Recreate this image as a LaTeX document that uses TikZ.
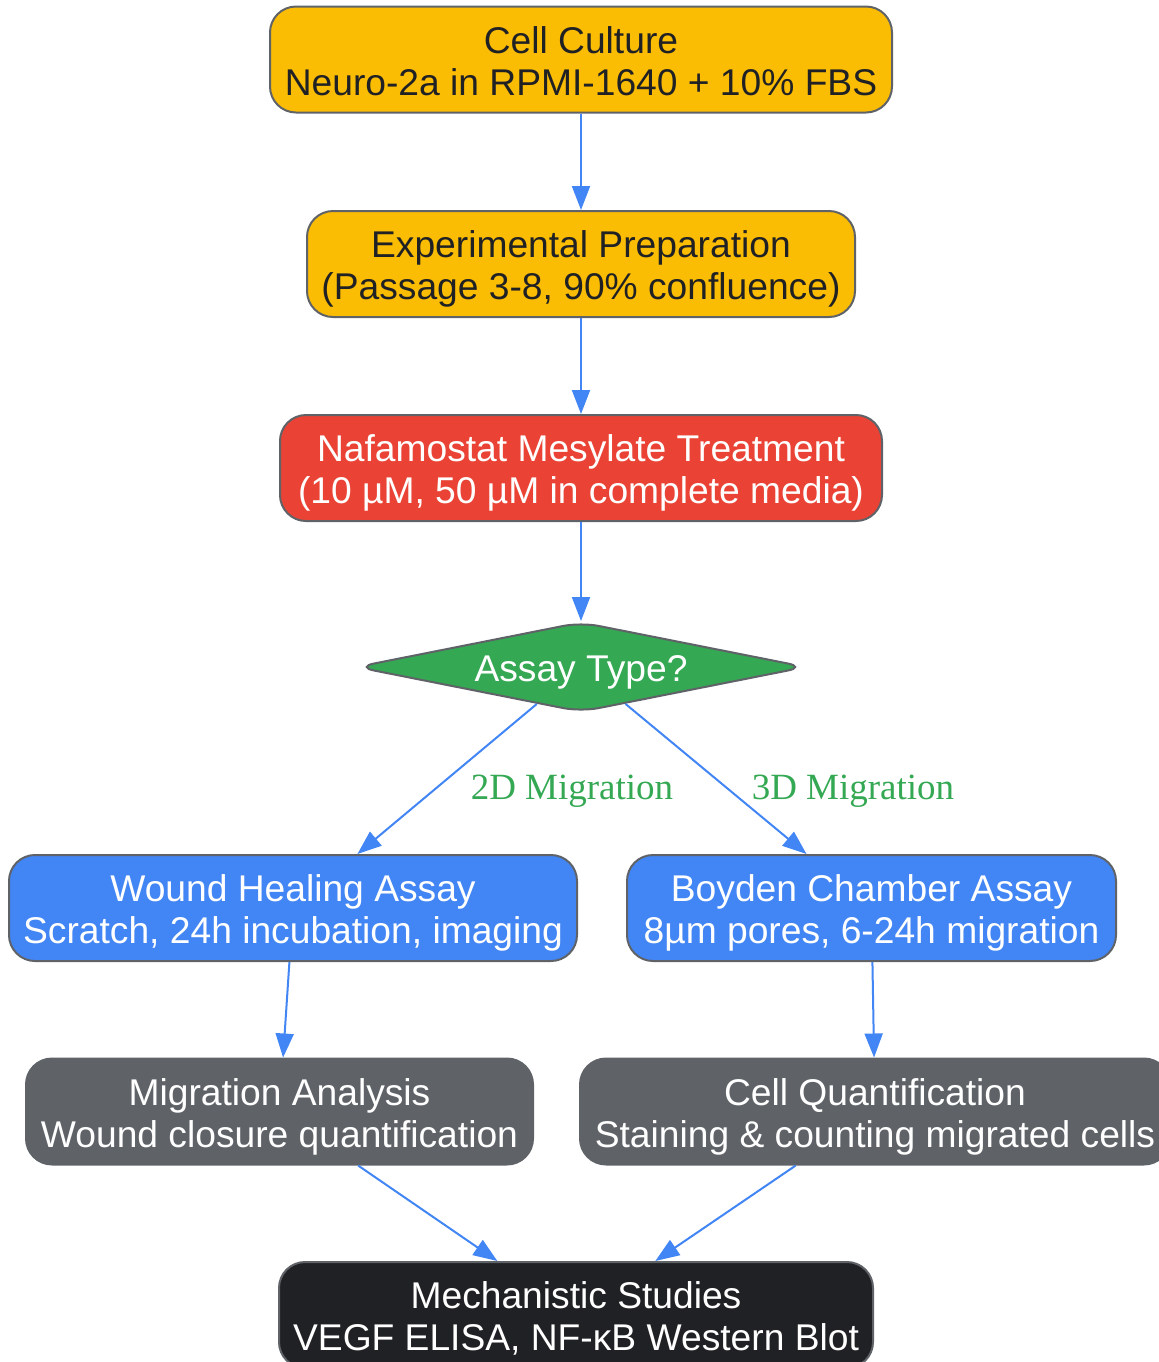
\documentclass[tikz,border=0pt]{standalone}
\usepackage{fontspec}
\setmainfont{Liberation Serif}
\setsansfont{Liberation Sans}
\usetikzlibrary{shapes.geometric,arrows.meta}
\definecolor{gyellow}{HTML}{FBBC04}
\definecolor{gred}{HTML}{EA4335}
\definecolor{ggreen}{HTML}{34A853}
\definecolor{gblue}{HTML}{4285F4}
\definecolor{ggray}{HTML}{5F6368}
\definecolor{gblack}{HTML}{202124}
\begin{document}
\begin{tikzpicture}[x=0.5pt, y=-0.5pt,
  box/.style={draw=ggray, line width=1pt, rounded corners=13pt, align=center,
    inner sep=0pt, minimum height=53pt, text height=37.8pt, text depth=2pt,
    font=\sffamily\fontsize{18.6}{21}\selectfont},
  prep/.style={box, fill=gyellow, text=gblack},
  treat/.style={box, fill=gred, text=white},
  assay/.style={box, fill=gblue, text=white},
  analysis/.style={box, fill=ggray, text=white},
  final/.style={box, fill=gblack, text=white},
  choice/.style={diamond, draw=ggray, line width=1pt, fill=ggreen, text=white,
    aspect=4.9, inner sep=0pt, minimum width=225pt, minimum height=45pt,
    text height=16.8pt, text depth=2pt,
    rounded corners=9pt, font=\sffamily\fontsize{18.6}{21}\selectfont},
  flow/.style={draw=gblue, line width=1pt, -{Triangle[length=12pt,width=9pt]}},
  branch/.style={text=ggreen, font=\rmfamily\fontsize{18.5}{21}\selectfont}]
  \useasboundingbox (0,0) rectangle (1159,1362);
  % main line
  \node[prep, minimum width=311pt]  (culture) at (581,59.5) {Cell Culture\\Neuro-2a in RPMI-1640 + 10\% FBS};
  \node[prep, minimum width=274pt]  (prepare) at (581,264)  {Experimental Preparation\\(Passage 3-8, 90\% confluence)};
  \node[treat, minimum width=301pt] (treat)   at (581,468)  {Nafamostat Mesylate Treatment\\(10 µM, 50 µM in complete media)};
  \node[choice]                     (type)    at (581,667)  {Assay Type?};
  % two branches
  \node[assay, minimum width=284pt]    (wound)  at (293,908)    {Wound Healing Assay\\Scratch, 24h incubation, imaging};
  \node[assay, minimum width=244.5pt]  (boyden) at (871.5,908)  {Boyden Chamber Assay\\8µm pores, 6-24h migration};
  \node[analysis, minimum width=253.5pt] (migr)  at (279.5,1111.5) {Migration Analysis\\Wound closure quantification};
  \node[analysis, minimum width=295pt]   (quant) at (875,1111.5)   {Cell Quantification\\Staining \& counting migrated cells};
  \node[final, minimum width=297pt]      (mech)  at (576,1315)     {Mechanistic Studies\\VEGF ELISA, NF-κB Western Blot};
  \node[branch] (lbl2d) at (572,791) {2D Migration};
  \node[branch] (lbl3d) at (853,791) {3D Migration};
  \draw[flow] (culture) -- (prepare);
  \draw[flow] (prepare) -- (treat);
  \draw[flow] (treat) -- (type);
  \draw[flow] (type) -- (wound);
  \draw[flow] (type) -- (boyden);
  \draw[flow] (wound) -- (migr);
  \draw[flow] (boyden) -- (quant);
  \draw[flow] (migr) -- (mech);
  \draw[flow] (quant) -- (mech);
\end{tikzpicture}
\end{document}
